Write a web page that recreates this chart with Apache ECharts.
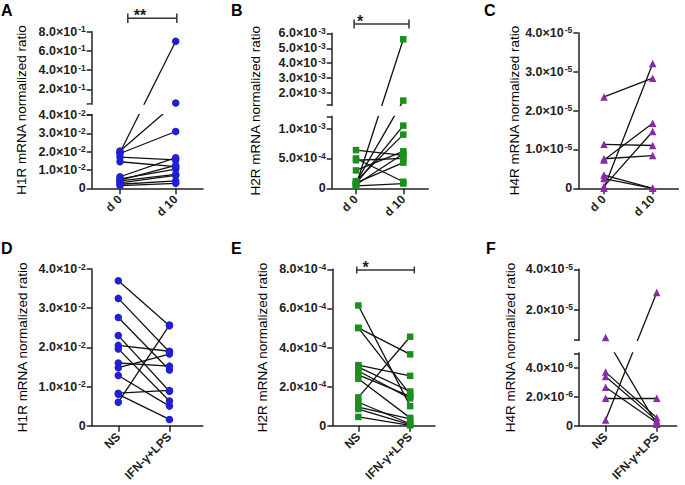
<!DOCTYPE html>
<html><head><meta charset="utf-8">
<script src="https://cdn.jsdelivr.net/npm/echarts@6.0.0/dist/echarts.min.js"></script>
<style>html,body{margin:0;padding:0;background:#fff}#c{width:685px;height:485px}</style>
</head><body><div id="c"></div>
<script>
// ---------------- data ----------------
const dayCats  = ['d 0', 'd 10'];
const stimCats = ['NS', 'IFN-γ+LPS'];

const h1rD0  = [0.0195, 0.0203, 0.0190, 0.0170, 0.0145, 0.0063, 0.0052, 0.0045, 0.0040, 0.0030, 0.0022, 0.0015];
const h1rD10 = [0.70,   0.057,  0.031,  0.0155, 0.0118, 0.0167, 0.0105, 0.0125, 0.0076, 0.0070, 0.0040, 0.0027];

const h2rD0  = [0.00005, 0.00010, 0.00008, 0.00012, 0.00006, 0.00009, 0.00004, 0.00064, 0.00050, 0.00047, 0.00030];
const h2rD10 = [0.0056,  0.0015,  0.00105, 0.00090, 0.00058, 0.00043, 0.00008, 0.00055, 0.00011, 0.00050, 0.00062];

const h4rD0  = [2.35e-5, 1.13e-5, 0.73e-5, 0.76e-5, 0.34e-5, 0.25e-5, 0, 0.05e-5];
const h4rD10 = [2.83e-5, 1.10e-5, 1.67e-5, 0.84e-5, 0, 0, 3.21e-5, 1.46e-5];

const h1rNS  = [0.0370, 0.0325, 0.0276, 0.0230, 0.0205, 0.0196, 0.0160, 0.0148, 0.0128, 0.0083, 0.0080, 0.0060];
const h1rIFN = [0.0255, 0.0188, 0.0142, 0.0088, 0.0190, 0.0063, 0.0152, 0.0183, 0.0050, 0.0090, 0.0016, 0.0257];

const h2rNS  = [6.15e-4, 5.0e-4, 5.0e-4, 3.1e-4, 3.0e-4, 2.8e-4, 2.6e-4, 2.4e-4, 1.45e-4, 1.2e-4, 0.95e-4, 0.85e-4, 0.45e-4];
const h2rIFN = [1.0e-4, 3.65e-4, 1.6e-4, 2.55e-4, 1.75e-4, 1.4e-4, 1.5e-4, 0.4e-4, 4.55e-4, 0.1e-4, 0.35e-4, 0.05e-4, 0.02e-4];

const h4rNS  = [6.2e-6, 3.7e-6, 3.4e-6, 2.65e-6, 1.9e-6, 0.4e-6];
const h4rIFN = [0.1e-6, 0.55e-6, 0.35e-6, 0.2e-6, 1.9e-6, 2.85e-5];

// tick labels
const ticksA = [0, 0.01, 0.02, 0.03, 0.04, 0.2, 0.4, 0.6, 0.8];
const ticksB = [0, 0.0005, 0.001, 0.002, 0.003, 0.004, 0.005, 0.006];
const ticksF = [0, 2e-6, 4e-6, 2e-5, 4e-5];

// ---------------- layout ----------------
const FONT = "'Liberation Sans', Arial, Helvetica, sans-serif";
const AX = '#222';
const BLUE = '#2020d0', GREEN = '#19901c', PURPLE = '#8a2aa8';

const panels = [
  { L:'A', lx:1, ly:2, grid:{left:91.7, top:31.7, width:111.3, height:156.6}, xr:[-0.508, 1.49], cats:dayCats,
    a:h1rD0, b:h1rD10, color:BLUE, symbol:'circle', size:7.5, name:'H1R mRNA normalized ratio', gap:63,
    brk:{lowMax:0.04, highMin:0.05, highMax:0.8, lowH:46.8, gapH:7.2}, ticks:ticksA,
    sig:{text:'**', x0:0.14, x1:1.02, dy:13.4, tx:0.36, h:4.7} },
  { L:'B', lx:231, ly:2, grid:{left:331.7, top:33.3, width:96.6, height:155}, xr:[-0.514, 1.529], cats:dayCats,
    a:h2rD0, b:h2rD10, color:GREEN, symbol:'rect', size:6.5, name:'H2R mRNA normalized ratio', gap:69,
    brk:{lowMax:0.0012, highMin:0.0012, highMax:0.006, lowH:46.2, gapH:7.5}, ticks:ticksB,
    sig:{text:'*', x0:-0.04, x1:1.12, dy:9.3, tx:0.085, h:4.5} },
  { L:'C', lx:484, ly:2, grid:{left:578.3, top:32.7, width:100, height:155.6}, xr:[-0.528, 1.526], cats:dayCats,
    a:h4rD0, b:h4rD10, color:PURPLE, symbol:'triangle', size:7.5, name:'H4R mRNA normalized ratio', gap:54,
    ymax:4e-5, yint:1e-5 },
  { L:'D', lx:1, ly:240, grid:{left:91.7, top:269, width:111, height:156.7}, xr:[-0.52, 1.65], cats:stimCats,
    a:h1rNS, b:h1rIFN, color:BLUE, symbol:'circle', size:7.5, name:'H1R mRNA normalized ratio', gap:62,
    ymax:0.04, yint:0.01 },
  { L:'E', lx:231, ly:240, grid:{left:332.3, top:269.3, width:102.7, height:156.4}, xr:[-0.503, 1.48], cats:stimCats,
    a:h2rNS, b:h2rIFN, color:GREEN, symbol:'rect', size:6.5, name:'H2R mRNA normalized ratio', gap:63,
    ymax:8e-4, yint:2e-4,
    sig:{text:'*', x0:-0.03, x1:1.08, dy:-0.7, tx:0.14, h:3.5} },
  { L:'F', lx:486, ly:240, grid:{left:579, top:269.3, width:97.7, height:156.4}, xr:[-0.52, 1.39], cats:stimCats,
    a:h4rNS, b:h4rIFN, color:PURPLE, symbol:'triangle', size:7.5, name:'H4R mRNA normalized ratio', gap:62,
    brk:{lowMax:5e-6, highMin:5e-6, highMax:4e-5, lowH:46.3, gapH:8.5}, ticks:ticksF }
];

function sci(v) {
  if (Math.abs(v) < 1e-15) return '{m|0}';
  let e = Math.floor(Math.log10(v) + 1e-9);
  let m = Math.round(v / Math.pow(10, e) * 10) / 10;
  if (m >= 10) { m /= 10; e += 1; }
  return '{m|' + m.toFixed(1) + '×10}{s|' + e + '}';
}
function makeT(brk) {
  if (!brk) return v => v;
  const hiH = 100 - brk.lowH - brk.gapH;
  return v => v <= brk.lowMax ? v / brk.lowMax * brk.lowH
           : brk.lowH + brk.gapH + (v - brk.highMin) / (brk.highMax - brk.highMin) * hiH;
}
const rich = {
  m: { fontSize: 12.5, fontWeight: 'bold', color: AX, fontFamily: FONT, lineHeight: 14 },
  s: { fontSize: 8.5, fontWeight: 'bold', color: AX, fontFamily: FONT, verticalAlign: 'top', lineHeight: 14, padding: [0, 0, 0, 1] }
};

const option = { animation: false, backgroundColor: '#fff', title: [], grid: [], xAxis: [], yAxis: [], series: [] };

panels.forEach((p, i) => {
  const T = makeT(p.brk);
  option.title.push({ text: p.L, left: p.lx, top: p.ly, padding: 0,
    textStyle: { fontSize: 16, fontWeight: 'bold', color: '#000', fontFamily: FONT } });
  option.grid.push(Object.assign({ containLabel: false }, p.grid));
  option.xAxis.push({
    type: 'value', gridIndex: i, min: p.xr[0], max: p.xr[1],
    axisLine: { show: true, onZero: false, lineStyle: { color: AX, width: 1.5 } },
    axisTick: { show: true, customValues: [0, 1], length: 6, lineStyle: { color: AX, width: 1.5 } },
    axisLabel: { customValues: [0, 1], formatter: v => p.cats[Math.round(v)], rotate: 45, margin: 9,
      fontSize: 12, fontWeight: 'bold', color: AX, fontFamily: FONT },
    splitLine: { show: false }
  });
  const y = {
    type: 'value', gridIndex: i, min: 0,
    name: p.name, nameLocation: 'middle', nameGap: p.gap,
    nameTextStyle: { fontSize: 13.5, color: '#000', fontFamily: FONT },
    axisLine: { show: true, onZero: false, lineStyle: { color: AX, width: 1.5 } },
    axisTick: { show: true, length: 5, lineStyle: { color: AX, width: 1.5 } },
    axisLabel: { margin: 6, fontSize: 12.5, fontWeight: 'bold', color: AX, fontFamily: FONT, rich: rich },
    splitLine: { show: false }
  };
  if (p.brk) {
    y.max = 100;
    const tv = p.ticks.map(T);
    y.axisLabel.customValues = tv;
    y.axisLabel.formatter = val => {
      let best = 0, bd = 1e9;
      tv.forEach((t, k) => { const d = Math.abs(t - val); if (d < bd) { bd = d; best = k; } });
      return sci(p.ticks[best]);
    };
    y.axisTick.customValues = tv.concat([p.brk.lowH, p.brk.lowH + p.brk.gapH]);
  } else {
    y.max = p.ymax; y.interval = p.yint;
    y.axisLabel.formatter = v => sci(v);
  }
  option.yAxis.push(y);

  // connecting lines
  option.series.push({
    type: 'lines', coordinateSystem: 'cartesian2d', xAxisIndex: i, yAxisIndex: i, z: 3, silent: true,
    lineStyle: { color: '#111', width: 1.3, opacity: 1, curveness: 0 },
    data: p.a.map((v, k) => ({ coords: [[0, T(v)], [1, T(p.b[k])]] }))
  });
  // break mask
  if (p.brk) {
    const lo = p.brk.lowH, hi = p.brk.lowH + p.brk.gapH;
    option.series.push({
      type: 'custom', xAxisIndex: i, yAxisIndex: i, z: 4, silent: true, clip: false,
      data: [[0, 0]],
      renderItem: (params, api) => {
        const cs = params.coordSys;
        const y1 = api.coord([0, lo])[1], y2 = api.coord([0, hi])[1];
        return { type: 'rect', shape: { x: cs.x - 4, y: y2 + 1, width: cs.width + 8, height: y1 - y2 - 2 },
                 style: { fill: '#fff' } };
      }
    });
  }
  // points
  option.series.push({
    type: 'scatter', xAxisIndex: i, yAxisIndex: i, z: 5, silent: true, clip: false,
    symbol: p.symbol, symbolSize: p.size, itemStyle: { color: p.color, opacity: 1 },
    data: p.a.map(v => [0, T(v)]).concat(p.b.map(v => [1, T(v)]))
  });
  // significance bracket
  if (p.sig) {
    const s = p.sig;
    option.series.push({
      type: 'custom', xAxisIndex: i, yAxisIndex: i, z: 6, silent: true, clip: false,
      data: [[0, 0]],
      renderItem: (params, api) => {
        const cs = params.coordSys;
        const yy = cs.y - s.dy;
        const x0 = api.coord([s.x0, 0])[0], x1 = api.coord([s.x1, 0])[0], tx = api.coord([s.tx, 0])[0];
        const ls = { stroke: '#333', lineWidth: 1.5 };
        return { type: 'group', children: [
          { type: 'line', shape: { x1: x0, y1: yy, x2: x1, y2: yy }, style: ls },
          { type: 'line', shape: { x1: x0, y1: yy - s.h, x2: x0, y2: yy + s.h }, style: ls },
          { type: 'line', shape: { x1: x1, y1: yy - s.h, x2: x1, y2: yy + s.h }, style: ls },
          { type: 'text', style: { text: s.text, x: tx, y: yy - 11, align: 'center', verticalAlign: 'top',
              fontSize: 16, fontWeight: 'bold', fill: '#222', fontFamily: FONT } }
        ] };
      }
    });
  }
});

const chart = echarts.init(document.getElementById('c'), null, { renderer: 'svg' });
chart.setOption(option);
</script></body></html>
